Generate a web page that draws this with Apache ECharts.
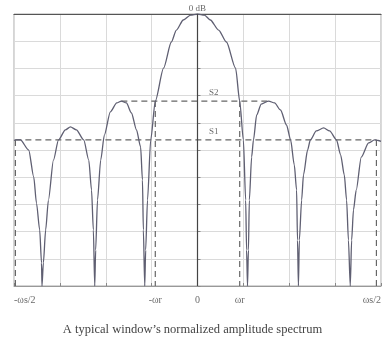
<!DOCTYPE html>
<html>
<head>
<meta charset="UTF-8">
<title>window spectrum</title>
<style>
    html,body{margin:0;padding:0;background:#fff;}
    #wrap{width:385px;height:340px;}
</style>
</head>
<body>
<div id="wrap"></div>
<script src="https://cdn.jsdelivr.net/npm/echarts@6/dist/echarts.min.js"></script>
<script>
    // curve points [freq, dB], read lobe by lobe off the picture
    let edgeLeft = [[-4, -46.5], [-3.97, -46.3], [-3.86, -46.3], [-3.68, -50], [-3.57, -59.9],
        [-3.51, -69.5], [-3.44, -79.4], [-3.40, -91.5], [-3.39, -100]];
    let side2Left = [[-3.36, -91.5], [-3.31, -79.4], [-3.25, -68.4], [-3.14, -53.7], [-3.03, -46.3],
        [-2.88, -42.6], [-2.77, -41.5], [-2.64, -42.6], [-2.48, -46.3], [-2.37, -53.7],
        [-2.31, -64.7], [-2.27, -79.4], [-2.24, -100]];
    let side1Left = [[-2.22, -86.8], [-2.18, -68.4], [-2.11, -53.7], [-2.03, -44.5], [-1.90, -36],
        [-1.76, -32.7], [-1.66, -32], [-1.55, -32.7], [-1.44, -36.4], [-1.33, -42.6],
        [-1.24, -48.9], [-1.20, -61], [-1.18, -79.4], [-1.15, -100]];
    let mainLobe = [[-1.13, -86.8], [-1.09, -68.4], [-1.02, -46.3], [-0.92, -32], [-0.74, -19.9],
        [-0.57, -10.3], [-0.46, -5.9], [-0.31, -2.2], [-0.15, -0.4], [0, 0], [0.15, -0.4],
        [0.28, -2.2], [0.46, -5.9], [0.63, -10.3], [0.83, -19.9], [0.92, -32], [1.00, -46.3],
        [1.05, -68.4], [1.07, -86.8], [1.09, -100]];
    let side1Right = [[1.11, -86.8], [1.13, -68.4], [1.18, -52.6], [1.22, -46.3], [1.29, -37.1],
        [1.39, -33.1], [1.55, -32], [1.68, -32.7], [1.81, -35.3], [1.94, -40.8], [2.03, -46.3],
        [2.11, -55.5], [2.16, -64.7], [2.18, -83.1], [2.20, -100]];
    let side2Right = [[2.22, -83.1], [2.27, -68.4], [2.31, -59.2], [2.40, -50], [2.46, -46.3],
        [2.59, -43], [2.75, -41.9], [2.88, -43], [3.03, -46.3], [3.12, -51.8], [3.20, -59.2],
        [3.25, -68.4], [3.29, -83.1], [3.33, -100]];
    let edgeRight = [[3.36, -83.1], [3.40, -72], [3.46, -64.7], [3.57, -52.6], [3.73, -47.4],
        [3.86, -46.3], [3.94, -46.5], [4, -46.8]];

    let s2Level = -32, s1Level = -46.3;
    let s2Span = [-1.66, 1.55];
    let s1Span = [-3.97, 3.9];
    let wr = 0.92;

    let tickVals = [-4, -wr, 0, wr, 4];
    let tickText = ['-ωs/2', '-ωr', '0', 'ωr', 'ωs/2'];
    let tickAlign = ['left', 'center', 'center', 'center', 'right'];

    let curve = [].concat(edgeLeft, side2Left, side1Left, mainLobe, side1Right, side2Right, edgeRight);

    let dash = {color: '#666', width: 1.2, type: [6, 4]};
    function dashed(points){
        return {type: 'line', data: points, symbol: 'none', lineStyle: dash, silent: true, z: 3};
    }

    let labels = tickVals.map((v, i) => ({
        value: [v, -100],
        label: {align: tickAlign[i]}
    }));

    let options = {
        animation: false,
        grid: {left: 14, right: 4, top: 14, bottom: 54, show: true, borderColor: '#aaa', borderWidth: 1},
        title: {
            text: 'A typical window’s normalized amplitude spectrum',
            left: 'center', top: 318,
            textStyle: {fontFamily: 'Liberation Serif', fontSize: 12.5, fontWeight: 'normal', color: '#444'}
        },
        xAxis: [{
            type: 'value', min: -4, max: 4, interval: 1,
            axisLine: {onZero: false, lineStyle: {color: '#999'}},
            axisTick: {inside: true, length: 3, lineStyle: {color: '#888'}},
            axisLabel: {show: false},
            splitLine: {lineStyle: {color: '#dadada'}}
        }, {
            type: 'value', min: -4, max: 4, position: 'top',
            axisLine: {lineStyle: {color: '#555', width: 1.2}},
            axisTick: {show: false}, axisLabel: {show: false}, splitLine: {show: false}
        }],
        yAxis: {
            type: 'value', min: -100, max: 0, interval: 10,
            axisLine: {show: true, lineStyle: {color: '#aaa'}},
            axisTick: {inside: true, length: 3, lineStyle: {color: '#888'}},
            axisLabel: {show: false},
            splitLine: {lineStyle: {color: '#dadada'}}
        },
        series: [
            {
                type: 'line', data: curve, symbol: 'none', z: 4,
                smooth: 0.25, smoothMonotone: 'x',
                lineStyle: {color: '#5f5f72', width: 1.3},
                markLine: {
                    silent: true, symbol: 'none', label: {show: false},
                    lineStyle: {color: '#444', type: 'solid', width: 1.2},
                    data: [{xAxis: 0}]
                }
            },
            dashed([[s2Span[0], s2Level], [s2Span[1], s2Level]]),
            dashed([[s1Span[0], s1Level], [s1Span[1], s1Level]]),
            dashed([[-wr, s2Level], [-wr, -100]]),
            dashed([[wr, s2Level], [wr, -100]]),
            dashed([[s1Span[0], s1Level], [s1Span[0], -100]]),
            dashed([[s1Span[1], s1Level], [s1Span[1], -100]]),
            {
                type: 'scatter', symbolSize: 0, data: labels, silent: true,
                label: {show: true, position: 'bottom', distance: 9, formatter: (p) => tickText[p.dataIndex],
                    fontFamily: 'Liberation Serif', fontSize: 10, color: '#444'}
            },
            {
                type: 'scatter', symbolSize: 0, silent: true,
                data: [{value: [0.25, s2Level], name: 'S2'}, {value: [0.25, s1Level], name: 'S1'}],
                label: {show: true, position: 'top', align: 'left', distance: 4, formatter: '{b}',
                    fontFamily: 'Liberation Serif', fontSize: 9, color: '#444'}
            },
            {
                type: 'scatter', symbolSize: 0, silent: true,
                data: [{value: [0, 0], name: '0 dB'}],
                label: {show: true, position: 'top', distance: 1, formatter: '{b}',
                    fontFamily: 'Liberation Serif', fontSize: 9, color: '#444'}
            }
        ]
    };

    let mycharts = echarts.init(document.getElementById('wrap'));
    mycharts.setOption(options);
</script>
</body>
</html>
